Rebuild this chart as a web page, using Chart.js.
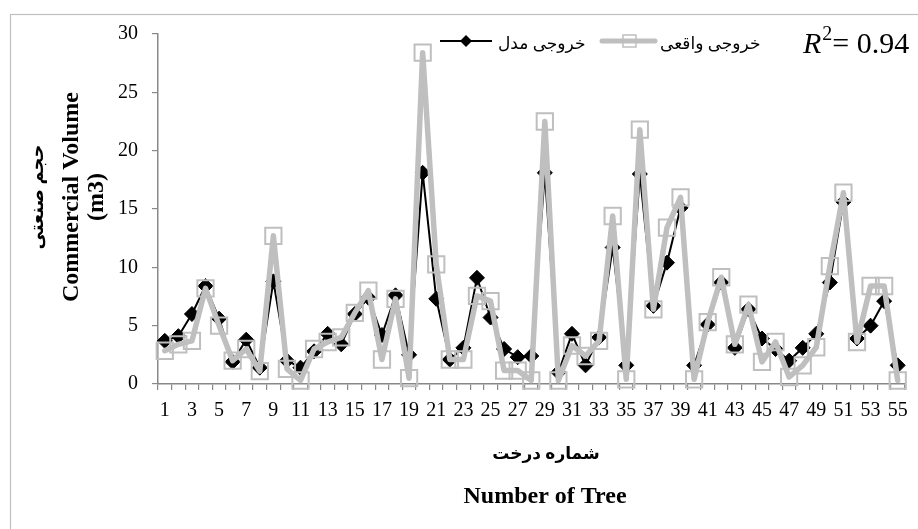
<!DOCTYPE html>
<html>
<head>
<meta charset="utf-8">
<script src="https://cdn.jsdelivr.net/npm/chart.js@4"></script>
<style>
html,body{margin:0;padding:0;background:#fff;}
#wrap{width:918px;height:529px;position:relative;}
</style>
</head>
<body>
<div id="wrap"><canvas id="c" width="918" height="529"></canvas></div>
<script>
const treeNumbers = Array.from({length: 55}, (_, i) => String(i + 1));
const modelOutput = [3.7, 4.1, 6.0, 8.4, 5.6, 1.9, 3.8, 1.4, 8.8, 2.0,
  1.4, 2.8, 4.3, 3.4, 6.0, 7.4, 4.2, 7.6, 2.5, 18.1,
  7.3, 2.1, 3.1, 9.1, 5.7, 3.0, 2.3, 2.4, 18.1, 1.0,
  4.3, 1.6, 4.0, 11.7, 1.6, 18.0, 6.7, 10.4, 15.1, 1.6,
  5.1, 8.7, 3.1, 6.4, 3.9, 3.0, 2.0, 3.1, 4.3, 8.7,
  15.6, 3.9, 5.0, 7.1, 1.6];
const actualOutput = [2.85, 3.4, 3.7, 8.2, 5.0, 2.0, 3.0, 1.1, 12.7, 1.3,
  0.3, 3.0, 3.6, 4.0, 6.1, 8.0, 2.1, 7.3, 0.5, 28.4,
  10.25, 2.1, 2.1, 7.55, 7.1, 1.15, 1.15, 0.3, 22.5, 0.3,
  3.3, 2.4, 3.7, 14.4, 0.4, 21.8, 6.4, 13.4, 16.0, 0.4,
  5.3, 9.15, 3.4, 6.8, 1.9, 3.6, 0.6, 1.6, 3.15, 10.1,
  16.4, 3.6, 8.4, 8.4, 0.3];
const yTicks = [0, 5, 10, 15, 20, 25, 30];
const seriesNames = ['خروجی مدل', 'خروجی واقعی'];
const yTitleLines = ['حجم صنعتی', 'Commercial Volume', '(m3)'];
const xTitleLines = ['شماره درخت', 'Number of Tree'];
const r2Text = '0.94';

const SERIF = "'Liberation Serif', 'DejaVu Sans', serif";
const GRAY = '#bfbfbf';
const AXIS = '#888888';

const decorPlugin = {
  id: 'decor',
  afterDraw(chart) {
    const ctx = chart.ctx;
    ctx.save();
    // outer frame (left/top visible)
    ctx.strokeStyle = '#c0c0c0';
    ctx.lineWidth = 1.2;
    ctx.strokeRect(10.5, 14.5, 940, 560);

    // y axis title (rotated)
    ctx.fillStyle = '#000';
    ctx.textAlign = 'center';
    ctx.textBaseline = 'middle';
    const yCenters = [38, 72, 97];
    const yFonts = ['bold 18px ' + SERIF, 'bold 24px ' + SERIF, 'bold 24px ' + SERIF];
    yTitleLines.forEach((t, i) => {
      ctx.save();
      ctx.translate(yCenters[i], 197);
      ctx.rotate(-Math.PI / 2);
      ctx.font = yFonts[i];
      ctx.fillText(t, 0, 0);
      ctx.restore();
    });

    // x axis title
    ctx.font = 'bold 17px ' + SERIF;
    ctx.fillText(xTitleLines[0], 546, 455);
    ctx.font = 'bold 24px ' + SERIF;
    ctx.fillText(xTitleLines[1], 545, 497);

    // legend
    const ly = 41;
    ctx.strokeStyle = '#000';
    ctx.lineWidth = 2;
    ctx.beginPath(); ctx.moveTo(440, ly); ctx.lineTo(492, ly); ctx.stroke();
    ctx.fillStyle = '#000';
    ctx.beginPath();
    ctx.moveTo(466 - 6, ly); ctx.lineTo(466, ly - 6); ctx.lineTo(466 + 6, ly); ctx.lineTo(466, ly + 6);
    ctx.closePath(); ctx.fill();

    ctx.strokeStyle = GRAY;
    ctx.lineWidth = 5;
    ctx.lineCap = 'round';
    ctx.beginPath(); ctx.moveTo(602, ly); ctx.lineTo(655, ly); ctx.stroke();
    ctx.lineCap = 'butt';
    ctx.lineWidth = 1.5;
    ctx.strokeRect(623, ly - 6, 13, 12);

    ctx.fillStyle = '#000';
    ctx.font = '17px ' + SERIF;
    ctx.textAlign = 'left';
    ctx.fillText(seriesNames[0], 498, 45);
    ctx.fillText(seriesNames[1], 660, 45);

    // R^2
    ctx.textBaseline = 'alphabetic';
    ctx.font = 'italic 30px ' + SERIF;
    ctx.fillText('R', 803, 53);
    let x = 803 + ctx.measureText('R').width + 1;
    ctx.font = '20px ' + SERIF;
    ctx.fillText('2', x, 40);
    x += ctx.measureText('2').width;
    ctx.font = '30px ' + SERIF;
    ctx.fillText('= ' + r2Text, x, 53);
    ctx.restore();
  }
};

new Chart(document.getElementById('c'), {
  type: 'line',
  data: {
    labels: treeNumbers,
    datasets: [
      {
        label: seriesNames[0],
        data: modelOutput,
        order: 2,
        borderColor: '#000',
        borderWidth: 2,
        borderJoinStyle: 'round',
        backgroundColor: '#000',
        pointStyle: 'rectRot',
        pointRadius: 7.5,
        pointBorderWidth: 1,
        pointBorderColor: '#000',
        pointBackgroundColor: '#000',
        tension: 0,
        clip: false
      },
      {
        label: seriesNames[1],
        data: actualOutput,
        order: 1,
        borderColor: GRAY,
        borderWidth: 5.5,
        borderJoinStyle: 'round',
        borderCapStyle: 'round',
        pointStyle: 'rect',
        pointRadius: 11.5,
        pointBorderWidth: 2,
        pointBorderColor: GRAY,
        pointBackgroundColor: 'rgba(0,0,0,0)',
        tension: 0,
        clip: false
      }
    ]
  },
  options: {
    responsive: false,
    animation: false,
    devicePixelRatio: 1,
    layout: { padding: { left: 10, top: 34, right: 8, bottom: 0 } },
    plugins: {
      legend: { display: false },
      tooltip: { enabled: false },
      title: { display: false }
    },
    scales: {
      x: {
        type: 'category',
        offset: true,
        afterFit: (s) => { s.height = 145; },
        grid: {
          display: true,
          offset: true,
          drawOnChartArea: false,
          drawTicks: true,
          tickLength: 6,
          color: AXIS,
          lineWidth: 1.2
        },
        border: { display: true, color: AXIS, width: 1.5 },
        ticks: {
          autoSkip: false,
          maxRotation: 0,
          minRotation: 0,
          padding: 9,
          color: '#000',
          font: { family: SERIF, size: 20 },
          callback: function (val, idx) { return idx % 2 === 0 ? this.getLabelForValue(val) : ''; }
        }
      },
      y: {
        min: 0,
        max: 30,
        afterFit: (s) => { s.width = 148; },
        afterBuildTicks: (s) => { s.ticks = yTicks.map(v => ({ value: v })); },
        grid: {
          display: true,
          drawOnChartArea: false,
          drawTicks: true,
          tickLength: 6,
          color: AXIS,
          lineWidth: 1.2
        },
        border: { display: true, color: AXIS, width: 1.5 },
        ticks: {
          padding: 14,
          color: '#000',
          font: { family: SERIF, size: 20 }
        }
      }
    }
  },
  plugins: [decorPlugin]
});
</script>
</body>
</html>
